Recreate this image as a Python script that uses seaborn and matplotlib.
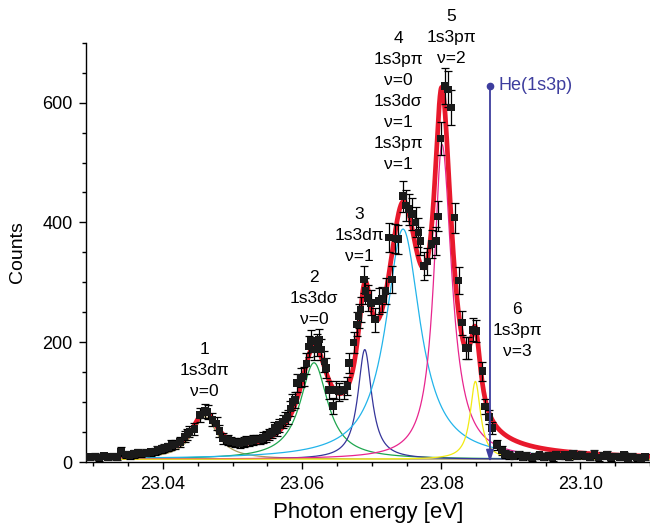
import numpy as np
import pandas as pd
import matplotlib
matplotlib.use("Agg")
import matplotlib.pyplot as plt
from matplotlib.ticker import MultipleLocator, FormatStrFormatter
import seaborn as sns

# measured spectrum
energy = [
    23.0295, 23.0302, 23.0308, 23.0315, 23.0321, 23.0328, 23.0334, 23.0340, 23.0347, 23.0352,
    23.0358, 23.0364, 23.0369, 23.0376, 23.0382, 23.0388, 23.0392, 23.0398, 23.0402, 23.0407,
    23.0412, 23.0417, 23.0424, 23.0431, 23.0435, 23.0438, 23.0445, 23.0453, 23.0460, 23.0464,
    23.0471, 23.0477, 23.0481, 23.0486, 23.0493, 23.0498, 23.0504, 23.0510, 23.0516, 23.0519,
    23.0524, 23.0529, 23.0534, 23.0539, 23.0543, 23.0548, 23.0553, 23.0557, 23.0560, 23.0564,
    23.0567, 23.0572, 23.0576, 23.0579, 23.0583, 23.0586, 23.0590, 23.0593, 23.0598, 23.0602,
    23.0606, 23.0610, 23.0613, 23.0617, 23.0622, 23.0624, 23.0627, 23.0632, 23.0634, 23.0639,
    23.0644, 23.0648, 23.0653, 23.0660, 23.0665, 23.0667, 23.0674, 23.0679, 23.0681, 23.0684,
    23.0689, 23.0691, 23.0694, 23.0699, 23.0705, 23.0710, 23.0715, 23.0720, 23.0725, 23.0729,
    23.0734, 23.0738, 23.0745, 23.0749, 23.0753, 23.0758, 23.0763, 23.0767, 23.0770, 23.0775,
    23.0780, 23.0786, 23.0792, 23.0795, 23.0799, 23.0805, 23.0810, 23.0814, 23.0819, 23.0825,
    23.0830, 23.0835, 23.0839, 23.0845, 23.0850, 23.0859, 23.0863, 23.0869, 23.0873, 23.0880,
    23.0887, 23.0892, 23.0898, 23.0904, 23.0911, 23.0917, 23.0922, 23.0930, 23.0935, 23.0941,
    23.0947, 23.0954, 23.0960, 23.0965, 23.0971, 23.0978, 23.0983, 23.0989, 23.0995, 23.1002,
    23.1008, 23.1014, 23.1020, 23.1026, 23.1033, 23.1038, 23.1044, 23.1050, 23.1057, 23.1063,
    23.1068, 23.1074, 23.1081, 23.1087, 23.1093,
]
counts = [
    9, 10, 8, 11, 9, 10, 9, 18, 13, 12,
    14, 16, 15, 16, 17, 18, 21, 22, 24, 26,
    29, 30, 34, 43, 47, 51, 56, 79, 86, 84,
    71, 65, 52, 40, 37, 35, 33, 32, 34, 36,
    35, 37, 38, 38, 41, 43, 47, 49, 57, 54,
    62, 68, 72, 76, 90, 101, 104, 132, 141, 143,
    165, 193, 202, 188, 196, 205, 188, 168, 157, 121,
    94, 121, 118, 121, 127, 166, 200, 230, 244, 255,
    305, 286, 274, 266, 238, 269, 272, 286, 375, 305,
    373, 372, 444, 428, 422, 414, 400, 383, 369, 327,
    335, 364, 369, 410, 540, 628, 622, 592, 408, 303,
    233, 191, 191, 221, 219, 152, 93, 76, 57, 29,
    20, 14, 12, 10, 13, 9, 11, 8, 10, 12,
    9, 11, 8, 13, 10, 12, 9, 14, 11, 13,
    10, 9, 14, 8, 11, 13, 8, 10, 9, 12,
    7, 10, 8, 6, 9,
]
errors = [
    5, 5, 5, 5, 5, 5, 5, 7, 6, 6,
    6, 6, 6, 6, 6, 6, 7, 7, 7, 7,
    8, 8, 8, 9, 9, 9, 10, 12, 12, 12,
    11, 11, 10, 9, 8, 8, 8, 8, 8, 8,
    8, 8, 8, 8, 9, 9, 9, 9, 10, 10,
    11, 11, 12, 12, 13, 13, 14, 15, 16, 16,
    17, 18, 18, 18, 18, 18, 18, 17, 17, 15,
    13, 15, 15, 15, 15, 17, 18, 20, 20, 21,
    22, 22, 21, 21, 20, 21, 21, 22, 24, 22,
    24, 24, 26, 26, 26, 26, 25, 24, 24, 23,
    23, 24, 24, 25, 28, 30, 30, 29, 25, 22,
    20, 18, 18, 19, 19, 16, 13, 12, 10, 8,
    7, 6, 6, 5, 6, 5, 6, 5, 5, 6,
    5, 6, 5, 6, 5, 6, 5, 6, 6, 6,
    5, 5, 6, 5, 6, 6, 5, 5, 5, 6,
    5, 5, 5, 5, 5,
]

# fit components (asymmetric lorentzians on a flat background)
peak_centers = [23.0460, 23.0617, 23.0690, 23.0745, 23.0801, 23.0849]
peak_heights = [71, 161, 183, 384, 525, 130]
hwhm_left = [0.0022, 0.0024, 0.0012, 0.0030, 0.0014, 0.0009]
hwhm_right = [0.0022, 0.0024, 0.0012, 0.0030, 0.0017, 0.0009]
peak_colors = ["#aa9c5c", "#1fa64f", "#35359a", "#22b4ea", "#e8258e", "#f2ea12"]
background = 5

label_texts = [
    "1\n1s3dπ\nν=0",
    "2\n1s3dσ\nν=0",
    "3\n1s3dπ\nν=1",
    "4\n1s3pπ\nν=0\n1s3dσ\nν=1\n1s3pπ\nν=1",
    "5\n1s3pπ\nν=2",
    "6\n1s3pπ\nν=3",
]
label_x = [23.0460, 23.0617, 23.0682, 23.0738, 23.0814, 23.0909]
label_y = [153, 274, 379, 601, 709, 220]

he_energy = 23.087
he_top = 628
he_color = "#3d3d9e"

sns.set_style("ticks")
plt.rcParams["font.family"] = ["Liberation Sans", "DejaVu Sans"]
plt.rcParams["text.color"] = "black"
plt.rcParams["axes.labelcolor"] = "black"

fig = plt.figure(figsize=(6.5, 5.31), dpi=100)
ax = fig.add_axes([86.5 / 650, (531 - 462.3) / 531, (650 - 86.5) / 650, (462.3 - 42.6) / 531])

grid = np.linspace(23.029, 23.11, 1600)
components = []
for c, h, wl, wr in zip(peak_centers, peak_heights, hwhm_left, hwhm_right):
    w = np.where(grid < c, wl, wr)
    components.append(h / (1 + ((grid - c) / w) ** 2))

for comp, col in zip(components, peak_colors):
    sns.lineplot(x=grid, y=comp + background, color=col, lw=0.9, ax=ax, zorder=2)

total = background + np.sum(components, axis=0)
sns.lineplot(x=grid, y=total, color="#e8192c", lw=3.4, ax=ax, zorder=3)

df = pd.DataFrame({"energy": energy, "counts": counts, "err": errors})
ax.errorbar(df["energy"], df["counts"], yerr=df["err"], fmt="none", ecolor="black",
            elinewidth=0.9, capsize=3.2, capthick=0.9, zorder=4)
sns.scatterplot(data=df, x="energy", y="counts", marker="s", s=30, color="#1a1a1a",
                edgecolor="none", ax=ax, zorder=5, legend=False)

# He(1s3p) threshold
ax.annotate("", xy=(he_energy, 0), xytext=(he_energy, he_top),
            arrowprops=dict(arrowstyle="-|>,head_length=0.7,head_width=0.22",
                            color=he_color, lw=1.3, shrinkA=0, shrinkB=0), zorder=6)
ax.plot([he_energy], [he_top], "o", color=he_color, ms=4.5, zorder=6)
ax.text(he_energy + 0.0012, he_top, "He(1s3p)", color=he_color, fontsize=13,
        ha="left", va="center")

for txt, x, y in zip(label_texts, label_x, label_y):
    ax.text(x, y, txt, ha="center", va="center", fontsize=12.5, linespacing=1.5,
            color="black", clip_on=False)

ax.set_xlim(23.029, 23.11)
ax.set_ylim(0, 700)
ax.xaxis.set_major_locator(MultipleLocator(0.02))
ax.xaxis.set_minor_locator(MultipleLocator(0.005))
ax.xaxis.set_major_formatter(FormatStrFormatter("%.2f"))
ax.yaxis.set_major_locator(MultipleLocator(200))
ax.yaxis.set_minor_locator(MultipleLocator(50))

sns.despine(ax=ax)
for s in ["left", "bottom"]:
    ax.spines[s].set_linewidth(1.0)
    ax.spines[s].set_color("black")
ax.tick_params(which="major", direction="out", length=5, width=1.0, labelsize=13,
               colors="black", pad=5)
ax.tick_params(which="minor", direction="out", length=3, width=1.0, colors="black")

ax.set_xlabel("Photon energy [eV]", fontsize=16, labelpad=6)
ax.set_ylabel("Counts", fontsize=14, labelpad=12)

fig.savefig("out.png", dpi=100)
